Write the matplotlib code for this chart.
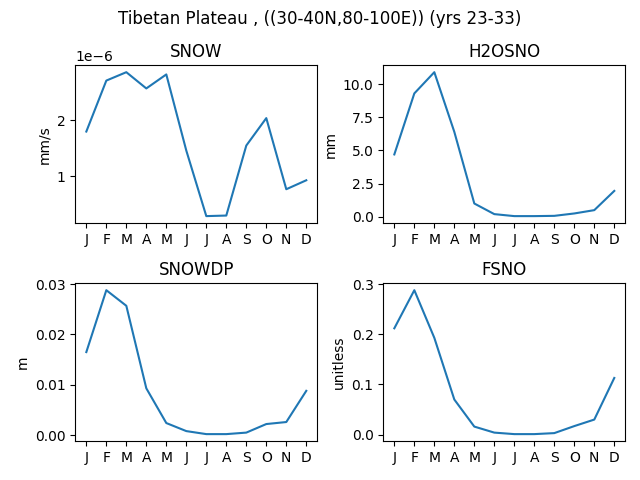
import matplotlib
matplotlib.use("Agg")
import matplotlib.pyplot as plt

months = ["J", "F", "M", "A", "M", "J", "J", "A", "S", "O", "N", "D"]
snow = [1.80e-6, 2.71e-6, 2.86e-6, 2.57e-6, 2.82e-6, 1.46e-6, 0.29e-6, 0.30e-6, 1.55e-6, 2.04e-6, 0.77e-6, 0.93e-6]
h2osno = [4.7, 9.3, 10.9, 6.4, 1.0, 0.2, 0.05, 0.05, 0.07, 0.25, 0.5, 1.95]
snowdp = [0.0165, 0.0288, 0.0257, 0.0093, 0.0024, 0.0008, 0.0002, 0.0002, 0.0005, 0.0022, 0.0026, 0.0088]
fsno = [0.212, 0.288, 0.193, 0.070, 0.016, 0.004, 0.001, 0.001, 0.003, 0.017, 0.030, 0.113]

panels = [("SNOW", snow, "mm/s"), ("H2OSNO", h2osno, "mm"),
          ("SNOWDP", snowdp, "m"), ("FSNO", fsno, "unitless")]

fig, axes = plt.subplots(2, 2, figsize=(6.4, 4.8), dpi=100)
x = list(range(len(months)))
for ax, (title, vals, unit) in zip(axes.flat, panels):
    ax.plot(x, vals)
    ax.set_title(title)
    ax.set_ylabel(unit)
    ax.set_xticks(x)
    ax.set_xticklabels(months)
fig.suptitle("Tibetan Plateau , ((30-40N,80-100E)) (yrs 23-33)")
fig.subplots_adjust(left=0.1177, right=0.977, top=0.8646, bottom=0.0806,
                    wspace=0.273, hspace=0.377)
fig.savefig("out.png")
